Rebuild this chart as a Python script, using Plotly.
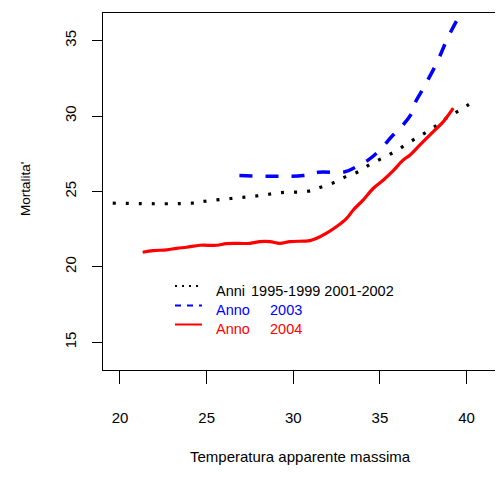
import plotly.graph_objects as go

# ---- data ----
base_x = [19.58, 24.14, 24.90, 26.39, 27.89, 29.33, 30.85, 31.58, 32.35, 33.03, 33.75,
          34.46, 35.20, 35.93, 36.70, 37.45, 38.14, 38.89, 39.72, 40.43]
base_y = [24.22, 24.22, 24.35, 24.53, 24.70, 24.92, 25.01, 25.28, 25.59, 25.98, 26.31,
          26.82, 27.24, 27.69, 28.26, 28.77, 29.28, 29.90, 30.47, 31.00]

y2003_x = [26.89, 30.58, 31.44, 32.98, 33.66, 34.33, 35.00, 35.68, 36.25, 36.83, 37.02,
           37.50, 38.27, 38.95, 39.80]
y2003_y = [26.05, 26.05, 26.27, 26.30, 26.65, 27.09, 27.75, 28.64, 29.30, 30.18, 30.85,
           31.84, 33.50, 35.27, 37.10]

y2004_x = [21.31, 21.92, 22.69, 23.27, 23.85, 24.62, 25.58, 26.15, 27.50, 28.08, 28.65,
           29.23, 29.81, 30.96, 31.35, 31.92, 32.50, 33.08, 33.46, 34.04, 34.62, 35.20,
           35.77, 36.35, 36.74, 37.31, 38.08, 38.66, 39.23]
y2004_y = [20.97, 21.08, 21.12, 21.23, 21.30, 21.43, 21.43, 21.54, 21.56, 21.67, 21.67,
           21.56, 21.67, 21.74, 21.89, 22.23, 22.67, 23.22, 23.77, 24.44, 25.21, 25.76,
           26.38, 27.09, 27.42, 28.08, 28.97, 29.63, 30.52]

x_ticks = [20, 25, 30, 35, 40]
y_ticks = [15, 20, 25, 30, 35]

legend_labels = [("Anni", "1995-1999 2001-2002", "black"),
                 ("Anno", "2003", "blue"),
                 ("Anno", "2004", "red")]

x_title = "Temperatura apparente massima"
y_title = "Mortalita'"

# ---- layout geometry (page body has an 8px margin) ----
OFF = 8
W, H = 503 - OFF, 477 - OFF
PLOT_L, PLOT_T, PLOT_B = 103, 13, 370          # page pixels
L, T, R = PLOT_L - OFF, PLOT_T - OFF, 0
B = H - (PLOT_B - OFF)
PW, PH = W - L - R, H - T - B
FONT = "Liberation Sans, Arial, sans-serif"


def px(x):
    return (x - PLOT_L) / PW


def py(y):
    return (PLOT_B - y) / PH


fig = go.Figure()
fig.add_trace(go.Scatter(x=base_x, y=base_y, mode="lines", line_shape="spline",
                         line=dict(color="black", width=3.2, dash="3px,10px"),
                         showlegend=False))
fig.add_trace(go.Scatter(x=y2003_x, y=y2003_y, mode="lines", line_shape="spline",
                         line=dict(color="blue", width=3.5, dash="13px,13px"),
                         showlegend=False))
fig.add_trace(go.Scatter(x=y2004_x, y=y2004_y, mode="lines", line_shape="spline",
                         line=dict(color="red", width=3.2),
                         showlegend=False))

shapes = []
annotations = []
# manual legend (R-style, no box)
rows_y = [290.5, 310, 329]
sample_styles = [dict(color="black", width=2, dash="2px,5px"),
                 dict(color="blue", width=2.2, dash="6px,6px"),
                 dict(color="red", width=2)]
for (w1, w2, col), ry, st in zip(legend_labels, rows_y, sample_styles):
    shapes.append(dict(type="line", xref="paper", yref="paper",
                       x0=px(175), x1=px(202), y0=py(ry - 4.5), y1=py(ry - 4.5),
                       line=st))
    annotations.append(dict(text=w1, xref="paper", yref="paper", x=px(214), y=py(ry),
                            xanchor="left", yanchor="middle", showarrow=False,
                            font=dict(family=FONT, size=14.5, color=col)))
    annotations.append(dict(text=w2, xref="paper", yref="paper",
                            x=px(249 if col == "black" else 268), y=py(ry),
                            xanchor="left", yanchor="middle", showarrow=False,
                            font=dict(family=FONT, size=14.5, color=col)))

annotations.append(dict(text=x_title, xref="paper", yref="paper", x=px(300), y=py(456),
                        xanchor="center", yanchor="middle", showarrow=False,
                        font=dict(family=FONT, size=15, color="black")))
annotations.append(dict(text=y_title, xref="paper", yref="paper", x=px(25), y=py(189),
                        xanchor="center", yanchor="middle", showarrow=False, textangle=-90,
                        font=dict(family=FONT, size=13.5, color="black")))

fig.update_layout(
    width=W, height=H,
    margin=dict(l=L, r=R, t=T, b=B, pad=0),
    paper_bgcolor="white", plot_bgcolor="white",
    shapes=shapes, annotations=annotations,
    xaxis=dict(range=[19.02, 42.10], tickvals=x_ticks, ticktext=[str(v) for v in x_ticks],
               showgrid=False, zeroline=False, showline=True, mirror=True,
               linecolor="black", linewidth=1.3, ticks="outside", ticklen=13,
               tickwidth=1.3, tickcolor="black", ticklabelstandoff=21,
               tickfont=dict(family=FONT, size=15, color="black")),
    yaxis=dict(range=[13.16, 36.83], tickvals=y_ticks, ticktext=[str(v) for v in y_ticks],
               showgrid=False, zeroline=False, showline=True, mirror=False,
               linecolor="black", linewidth=1.3, ticks="outside", ticklen=10,
               tickwidth=1.3, tickcolor="black", tickangle=-90, ticklabelstandoff=10,
               tickfont=dict(family=FONT, size=15, color="black")),
)

fig.write_html("out.html")
